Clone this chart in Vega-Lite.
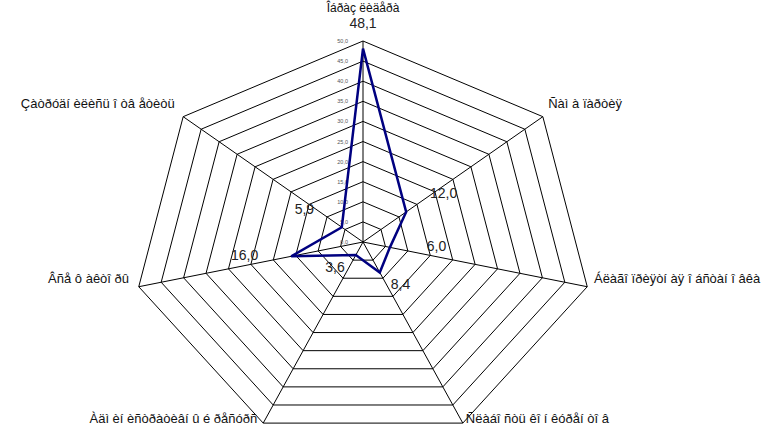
{
  "$schema": "https://vega.github.io/schema/vega-lite/v6.json",
  "width": 783,
  "height": 427,
  "padding": 0,
  "autosize": {"type": "none"},
  "background": "white",
  "config": {"view": {"stroke": null}, "font": "Liberation Sans"},
  "datasets": {
    "series": [
      {"k": 0, "category": "Îáðàç ëèäåðà", "value": 48.1},
      {"k": 1, "category": "Ñàì à ïàðòèÿ", "value": 12.0},
      {"k": 2, "category": "Áëàãî ïðèÿòí àÿ î áñòàí î âêà", "value": 6.0},
      {"k": 3, "category": "Ñëàáî ñòü êî í êóðåí òî â", "value": 8.4},
      {"k": 4, "category": "Àäì èí èñòðàòèâí û é ðåñóðñ", "value": 3.6},
      {"k": 5, "category": "Âñå ô àêòî ðû", "value": 16.0},
      {"k": 6, "category": "Çàòðóäí èëèñü î òâ åòèòü", "value": 5.9}
    ],
    "grid": [
      {"rings": [0, 5, 10, 15, 20, 25, 30, 35, 40, 45, 50], "ks": [0, 1, 2, 3, 4, 5, 6]}
    ]
  },
  "layer": [
    {
      "data": {"name": "grid"},
      "transform": [
        {"flatten": ["rings"]},
        {"flatten": ["ks"]},
        {"filter": "datum.rings > 0"},
        {"calculate": "datum.ks * 2 * PI / 7", "as": "theta"},
        {"calculate": "datum.rings * sin(datum.theta)", "as": "gx"},
        {"calculate": "datum.rings * cos(datum.theta)", "as": "gy"}
      ],
      "mark": {"type": "line", "interpolate": "linear-closed", "stroke": "black", "strokeWidth": 1},
      "encoding": {
        "x": {"field": "gx", "type": "quantitative", "scale": {"domain": [-78.91, 91.3], "nice": false, "zero": false}, "axis": null},
        "y": {"field": "gy", "type": "quantitative", "scale": {"domain": [-46.02, 60.2], "nice": false, "zero": false}, "axis": null},
        "detail": {"field": "rings", "type": "nominal"},
        "order": {"field": "ks", "type": "quantitative"}
      }
    },
    {
      "data": {"name": "series"},
      "transform": [
        {"calculate": "datum.k * 2 * PI / 7", "as": "theta"},
        {"calculate": "50 * sin(datum.theta)", "as": "sx"},
        {"calculate": "50 * cos(datum.theta)", "as": "sy"},
        {"calculate": "0", "as": "origin"}
      ],
      "mark": {"type": "rule", "stroke": "black", "strokeWidth": 1},
      "encoding": {
        "x": {"field": "sx", "type": "quantitative", "scale": {"domain": [-78.91, 91.3], "nice": false, "zero": false}, "axis": null},
        "y": {"field": "sy", "type": "quantitative", "scale": {"domain": [-46.02, 60.2], "nice": false, "zero": false}, "axis": null},
        "x2": {"field": "origin"},
        "y2": {"field": "origin"}
      }
    },
    {
      "data": {"name": "grid"},
      "transform": [
        {"flatten": ["rings"]},
        {"calculate": "0", "as": "zx"},
        {"calculate": "replace(format(datum.rings, '.1f'), '.', ',')", "as": "lab"}
      ],
      "mark": {"type": "text", "align": "right", "baseline": "middle", "dx": -15, "fontSize": 5.5, "fill": "#555555"},
      "encoding": {
        "x": {"field": "zx", "type": "quantitative", "scale": {"domain": [-78.91, 91.3], "nice": false, "zero": false}, "axis": null},
        "y": {"field": "rings", "type": "quantitative", "scale": {"domain": [-46.02, 60.2], "nice": false, "zero": false}, "axis": null},
        "text": {"field": "lab", "type": "nominal"}
      }
    },
    {
      "data": {"name": "series"},
      "transform": [
        {"calculate": "datum.k * 2 * PI / 7", "as": "theta"},
        {"calculate": "datum.value * sin(datum.theta)", "as": "px"},
        {"calculate": "datum.value * cos(datum.theta)", "as": "py"}
      ],
      "mark": {"type": "line", "interpolate": "linear-closed", "stroke": "#000080", "strokeWidth": 2.5},
      "encoding": {
        "x": {"field": "px", "type": "quantitative", "scale": {"domain": [-78.91, 91.3], "nice": false, "zero": false}, "axis": null},
        "y": {"field": "py", "type": "quantitative", "scale": {"domain": [-46.02, 60.2], "nice": false, "zero": false}, "axis": null},
        "order": {"field": "k", "type": "quantitative"}
      }
    },
    {
      "data": {"name": "series"},
      "transform": [
        {"calculate": "datum.k * 2 * PI / 7", "as": "theta"},
        {"calculate": "datum.value * sin(datum.theta) + 10.4 * sin(datum.theta)", "as": "lx"},
        {"calculate": "datum.value * cos(datum.theta) + 4.975 * cos(datum.theta) + 1.244", "as": "ly"},
        {"calculate": "replace(format(datum.value, '.1f'), '.', ',')", "as": "lab"}
      ],
      "mark": {"type": "text", "align": "center", "baseline": "middle", "fontSize": 14, "fill": "#222222"},
      "encoding": {
        "x": {"field": "lx", "type": "quantitative", "scale": {"domain": [-78.91, 91.3], "nice": false, "zero": false}, "axis": null},
        "y": {"field": "ly", "type": "quantitative", "scale": {"domain": [-46.02, 60.2], "nice": false, "zero": false}, "axis": null},
        "text": {"field": "lab", "type": "nominal"}
      }
    },
    {
      "data": {"name": "series"},
      "transform": [
        {"filter": "datum.k == 0"},
        {"calculate": "0", "as": "cx"},
        {"calculate": "50", "as": "cy"}
      ],
      "mark": {"type": "text", "align": "center", "baseline": "middle", "dy": -33, "fontSize": 12, "fill": "#111111"},
      "encoding": {
        "x": {"field": "cx", "type": "quantitative", "scale": {"domain": [-78.91, 91.3], "nice": false, "zero": false}, "axis": null},
        "y": {"field": "cy", "type": "quantitative", "scale": {"domain": [-46.02, 60.2], "nice": false, "zero": false}, "axis": null},
        "text": {"field": "category", "type": "nominal"}
      }
    },
    {
      "data": {"name": "series"},
      "transform": [
        {"filter": "datum.k >= 1 && datum.k <= 3"},
        {"calculate": "datum.k * 2 * PI / 7", "as": "theta"},
        {"calculate": "51.5 * sin(datum.theta)", "as": "cx"},
        {"calculate": "50 * cos(datum.theta) + (4 + 5.9 * (cos(datum.theta) + 0.9)) / 4.02", "as": "cy"}
      ],
      "mark": {"type": "text", "align": "left", "baseline": "middle", "dx": 0, "fontSize": 13, "fill": "#111111"},
      "encoding": {
        "x": {"field": "cx", "type": "quantitative", "scale": {"domain": [-78.91, 91.3], "nice": false, "zero": false}, "axis": null},
        "y": {"field": "cy", "type": "quantitative", "scale": {"domain": [-46.02, 60.2], "nice": false, "zero": false}, "axis": null},
        "text": {"field": "category", "type": "nominal"}
      }
    },
    {
      "data": {"name": "series"},
      "transform": [
        {"filter": "datum.k >= 4"},
        {"calculate": "datum.k * 2 * PI / 7", "as": "theta"},
        {"calculate": "51.5 * sin(datum.theta)", "as": "cx"},
        {"calculate": "50 * cos(datum.theta) + (4 + 5.9 * (cos(datum.theta) + 0.9)) / 4.02", "as": "cy"}
      ],
      "mark": {"type": "text", "align": "right", "baseline": "middle", "dx": -3, "fontSize": 13, "fill": "#111111"},
      "encoding": {
        "x": {"field": "cx", "type": "quantitative", "scale": {"domain": [-78.91, 91.3], "nice": false, "zero": false}, "axis": null},
        "y": {"field": "cy", "type": "quantitative", "scale": {"domain": [-46.02, 60.2], "nice": false, "zero": false}, "axis": null},
        "text": {"field": "category", "type": "nominal"}
      }
    }
  ]
}
